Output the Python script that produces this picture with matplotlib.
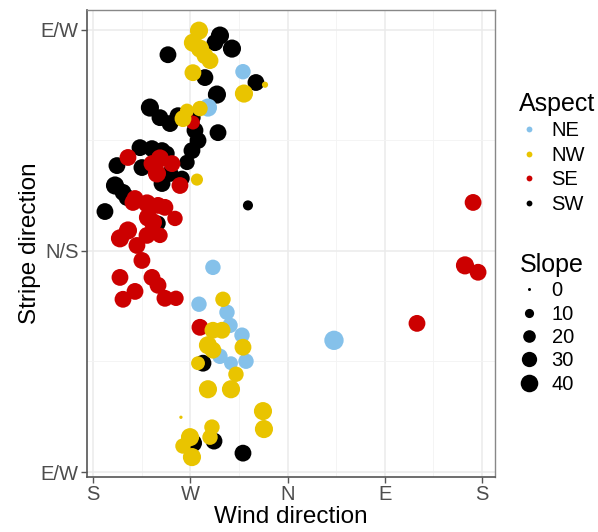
import matplotlib
matplotlib.use('Agg')

import numpy as np
import matplotlib.pyplot as plt
from matplotlib.lines import Line2D

plt.rcParams['font.family'] = ['Liberation Sans', 'DejaVu Sans']

# wind direction in degrees from S (0=S, 90=W, 180=N, 270=E, 360=S)
# stripe direction in degrees (0=E/W, 90=N/S, 180=E/W)
sw_wind = [117.5, 112.9, 128.6, 69.4, 103.6, 150.8, 114.7, 52.7, 62.0, 71.3, 78.7, 92.5,
           94.4, 97.2, 91.6, 87.0, 115.7, 43.5, 54.6, 63.9, 68.5, 22.2, 45.3, 71.3, 82.4,
           63.9, 20.4, 27.8, 31.5, 11.1, 60.2, 143.4, 101.8, 112.0, 92.5, 138.8]
sw_stripe = [177.6, 174.7, 172.3, 169.8, 160.5, 158.5, 153.6, 148.3, 144.2, 141.8, 145.0, 144.2,
             139.0, 134.9, 130.8, 126.0, 138.1, 132.0, 131.6, 130.8, 129.6, 124.7, 123.9, 121.5, 119.5,
             117.4, 116.6, 113.8, 111.7, 106.0, 101.2, 108.5, 44.3, 12.6, 11.8, 7.7]
sw_slope = [35, 30, 35, 30, 30, 30, 35, 35, 30, 30, 30, 25,
            30, 30, 30, 25, 30, 30, 30, 30, 25, 30, 30, 30, 25,
            30, 35, 30, 30, 30, 25, 10, 30, 30, 35, 30]

se_wind = [86.1, 92.5, 32.4, 54.6, 62.0, 73.1, 59.2, 80.5, 38.9, 37.0, 50.0, 60.2, 66.6,
           50.9, 55.5, 75.9, 32.4, 25.0, 40.7, 50.0, 62.0, 45.3, 25.0, 54.6, 60.2, 38.9,
           27.8, 66.6, 76.8, 99.0, 299.8, 351.7, 344.2, 356.3]
se_stripe = [145.9, 142.2, 128.0, 125.5, 127.6, 125.5, 121.5, 116.6, 111.3, 109.7, 109.3, 108.5, 107.7,
             103.6, 101.6, 103.2, 98.3, 95.1, 92.2, 96.3, 96.3, 86.1, 79.2, 79.2, 76.0, 73.5,
             70.3, 70.7, 70.7, 58.9, 60.5, 109.7, 84.1, 81.3]
se_slope = [20, 20, 30, 30, 35, 30, 35, 30, 30, 30, 35, 30, 30,
            35, 35, 25, 35, 35, 30, 30, 25, 30, 30, 30, 30, 30,
            30, 30, 25, 30, 30, 30, 35, 30]

ne_wind = [138.8, 106.4, 111.0, 98.1, 124.0, 126.8, 137.9, 117.5, 127.7, 141.6, 223.0]
ne_stripe = [162.9, 148.3, 83.3, 68.3, 65.0, 59.7, 55.7, 47.1, 44.3, 45.1, 53.6]
ne_slope = [25, 35, 25, 25, 25, 25, 25, 25, 20, 25, 40]

nw_wind = [98.1, 92.5, 99.0, 103.6, 108.3, 92.5, 159.2, 139.7, 87.0, 83.3, 99.0, 96.2,
           120.3, 111.0, 119.4, 138.8, 106.4, 111.0, 97.2, 132.3, 106.4, 127.7, 157.3, 158.2,
           81.4, 110.1, 108.3, 89.8, 83.3, 91.6]
nw_stripe = [179.6, 174.7, 172.3, 169.4, 167.4, 162.5, 157.6, 154.0, 147.1, 143.8, 147.9, 119.0,
             70.3, 57.7, 57.7, 50.8, 51.6, 49.6, 44.3, 39.8, 33.7, 33.7, 24.8, 17.5,
             22.3, 18.3, 14.2, 14.2, 10.6, 6.1]
nw_slope = [35, 35, 35, 30, 30, 30, 3, 35, 20, 30, 25, 15,
            25, 30, 30, 30, 35, 30, 20, 25, 35, 35, 35, 35,
            0, 25, 25, 35, 25, 35]

colours = {'NE': '#85C1EA', 'NW': '#E9C400', 'SE': '#CC0000', 'SW': '#000000'}
x_ticks = [0, 90, 180, 270, 360]
x_labels = ['S', 'W', 'N', 'E', 'S']
y_ticks = [0, 90, 180]
y_labels = ['E/W', 'N/S', 'E/W']
legend_slopes = [0, 10, 20, 30, 40]


def marker_area(slope, scale=1.0):
    # ggplot-like area scaling: diameter in px, converted to points^2
    d = scale * np.sqrt(9 + 300 * np.asarray(slope, dtype=float) / 40)
    return (d * 0.72) ** 2


fig = plt.figure(figsize=(5.98, 5.32), dpi=100)
ax = fig.add_axes([0.1455, 0.1034, 0.6823, 0.8778])

series = [('SW', sw_wind, sw_stripe, sw_slope),
          ('SE', se_wind, se_stripe, se_slope),
          ('NE', ne_wind, ne_stripe, ne_slope),
          ('NW', nw_wind, nw_stripe, nw_slope)]
for name, xs, ys, ss in series:
    ax.scatter(xs, ys, s=marker_area(ss, 1.1), c=colours[name], edgecolors='none', zorder=3)

ax.set_xlim(-5.5, 372)
ax.set_ylim(-2, 188)
ax.set_xticks(x_ticks)
ax.set_xticklabels(x_labels)
ax.set_yticks(y_ticks)
ax.set_yticklabels(y_labels)
ax.set_xticks([45, 135, 225, 315], minor=True)
ax.set_yticks([45, 135], minor=True)
ax.grid(True, which='major', color='#EBEBEB', linewidth=1.1, zorder=0)
ax.grid(True, which='minor', color='#F3F3F3', linewidth=0.6, zorder=0)
ax.set_axisbelow(True)
ax.tick_params(which='major', length=4, width=1, color='#555555', labelcolor='#4D4D4D',
               labelsize=14.5, pad=2)
ax.tick_params(which='minor', length=0)
for side in ['top', 'right']:
    ax.spines[side].set_color('#888888')
    ax.spines[side].set_linewidth(1.0)
for side in ['left', 'bottom']:
    ax.spines[side].set_color('#555555')
    ax.spines[side].set_linewidth(1.2)

ax.set_xlabel('Wind direction', fontsize=17.5, labelpad=1)
ax.set_ylabel('Stripe direction', fontsize=17.5, labelpad=0)

asp_handles = [Line2D([], [], linestyle='none', marker='o', markersize=4.2,
                      markerfacecolor=colours[k], markeredgecolor='none')
               for k in ['NE', 'NW', 'SE', 'SW']]
leg1 = fig.legend(asp_handles, ['NE', 'NW', 'SE', 'SW'], title='Aspect',
                  loc='upper left', bbox_to_anchor=(0.855, 0.843), frameon=False,
                  fontsize=14.5, title_fontsize=18, handlelength=1.0, handletextpad=0.6,
                  labelspacing=0.28, alignment='left', borderaxespad=0)

size_handles = [Line2D([], [], linestyle='none', marker='o',
                       markersize=np.sqrt(marker_area(v)), markerfacecolor='black',
                       markeredgecolor='none') for v in legend_slopes]
leg2 = fig.legend(size_handles, [str(v) for v in legend_slopes], title='Slope',
                  loc='upper left', bbox_to_anchor=(0.855, 0.54), frameon=False,
                  fontsize=14.5, title_fontsize=18, handlelength=1.0, handletextpad=0.6,
                  labelspacing=0.22, alignment='left', borderaxespad=0)

fig.savefig('out.png', dpi=100)
plt.close(fig)
